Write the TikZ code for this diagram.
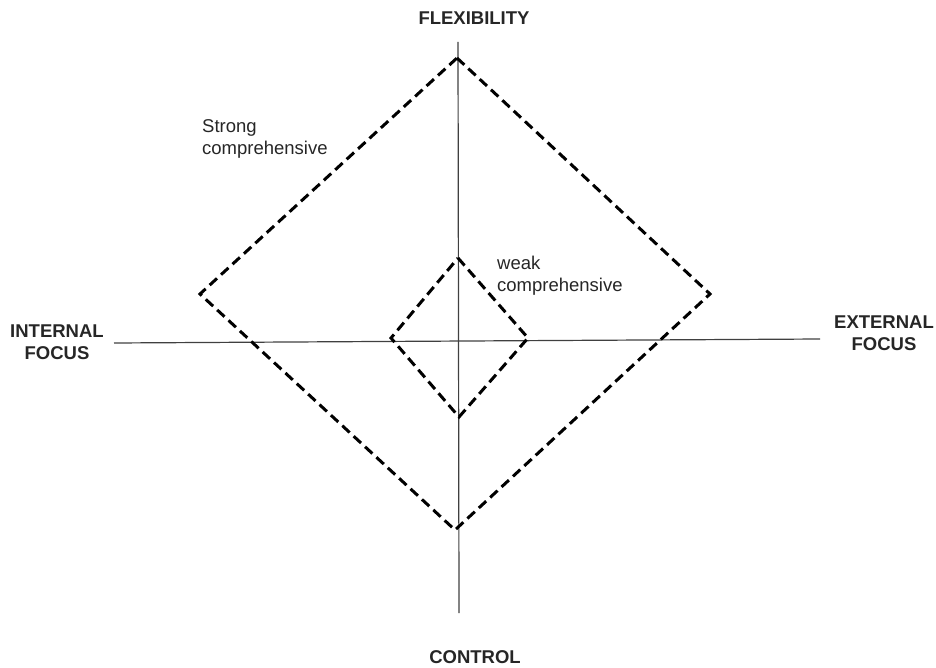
\documentclass[tikz,border=0pt]{standalone}
\usepackage{fontspec}
\setmainfont{Liberation Sans}
\begin{document}
\begin{tikzpicture}[x=1pt,y=-1pt,
  axis/.style={draw=black!75,line width=1.2pt},
  quad/.style={draw=black,line width=3pt,dash pattern=on 10pt off 5.5pt,line join=miter},
  axislabel/.style={font=\fontsize{18.5}{22}\selectfont\bfseries,align=center,inner sep=0pt,text=black!85},
  zonelabel/.style={font=\fontsize{18.5}{22}\selectfont,align=left,inner sep=0pt,anchor=west,text=black!85}]
\useasboundingbox (0,0) rectangle (936,668);
% axes
\coordinate (ytop) at (458,42);
\coordinate (ybot) at (459,613);
\coordinate (xleft) at (114,343);
\coordinate (xright) at (820,339);
\draw[axis] (ytop) -- (ybot);
\draw[axis] (xleft) -- (xright);
% axis labels
\node[axislabel] (flex) at (474,18) {FLEXIBILITY};
\node[axislabel] (ctrl) at (475,657) {CONTROL};
\node[axislabel] (intf) at (57,342) {INTERNAL\\FOCUS};
\node[axislabel] (extf) at (884,333) {EXTERNAL\\FOCUS};
% outer diamond
\coordinate (st) at (457,58);
\coordinate (sr) at (710,294);
\coordinate (sb) at (455,530);
\coordinate (sl) at (200,294);
\draw[quad] (st) -- (sr) -- (sb) -- (sl) -- cycle;
% inner diamond
\coordinate (wt) at (458,258);
\coordinate (wr) at (528,338);
\coordinate (wb) at (459,417);
\coordinate (wl) at (391,338);
\draw[quad] (wt) -- (wr) -- (wb) -- (wl) -- cycle;
% zone labels
\node[zonelabel] (strong) at (202,139) {Strong\\comprehensive};
\node[zonelabel] (weak) at (497,276) {weak\\comprehensive};
\end{tikzpicture}
\end{document}
